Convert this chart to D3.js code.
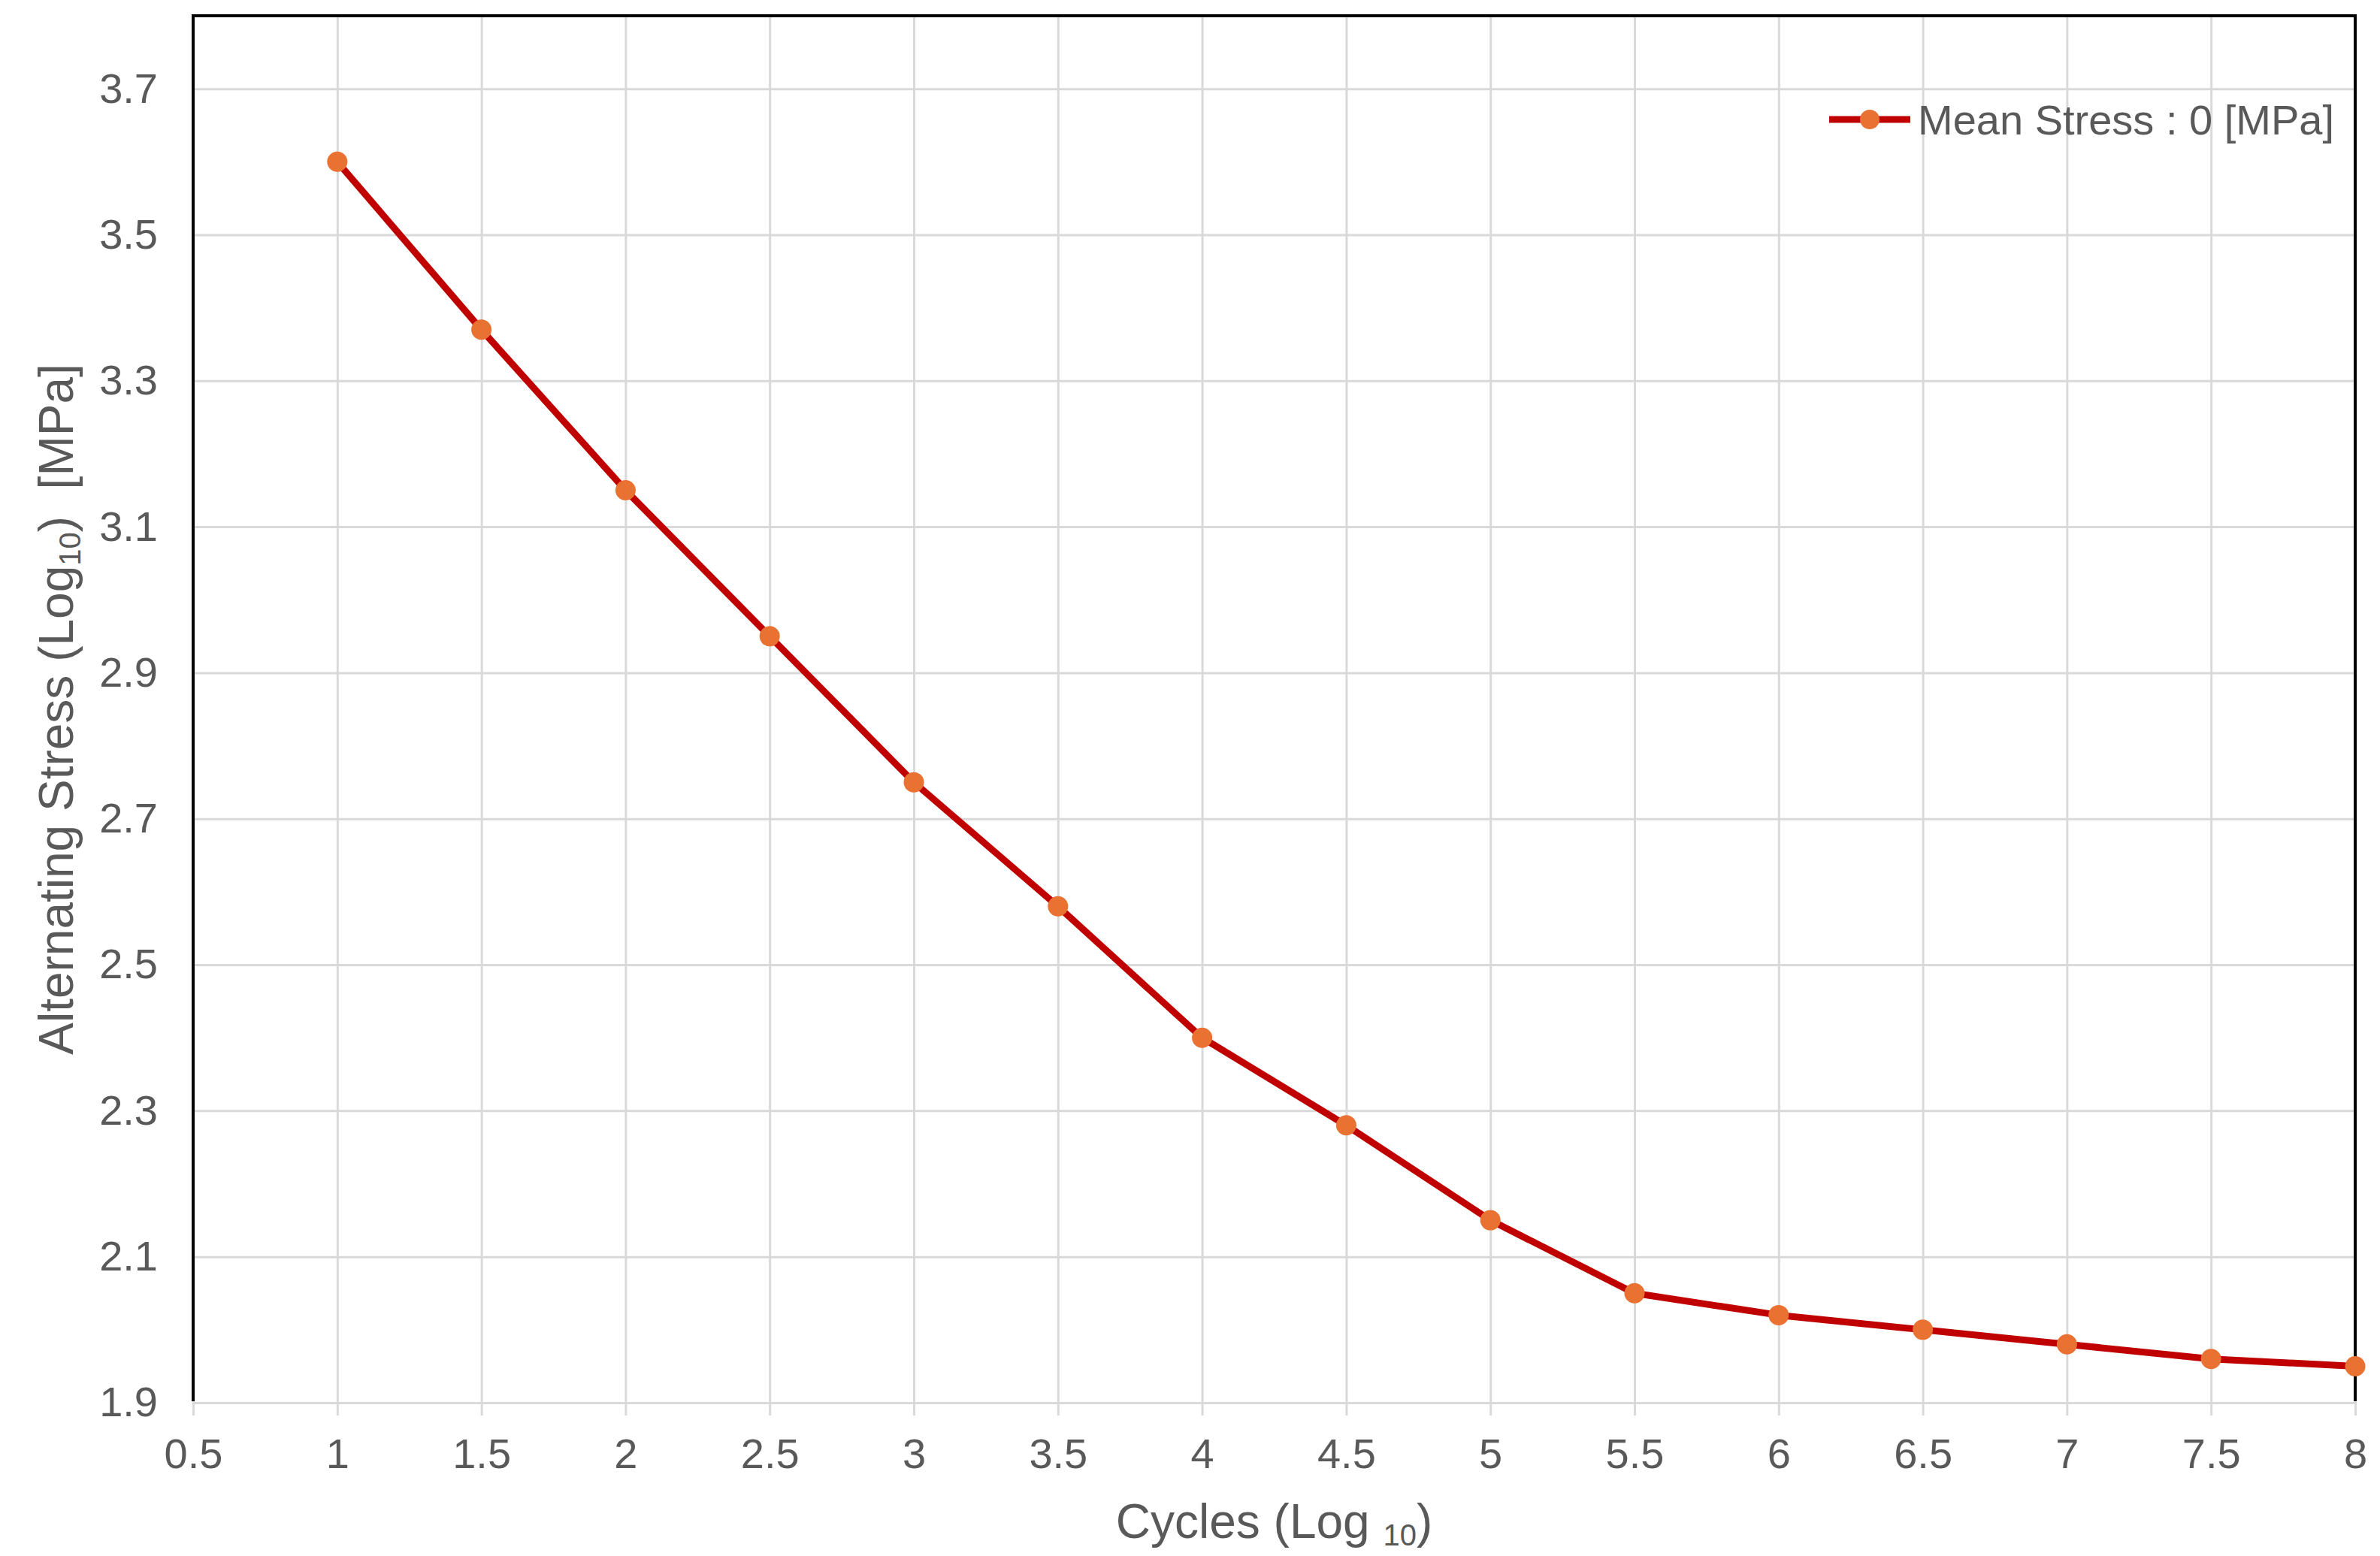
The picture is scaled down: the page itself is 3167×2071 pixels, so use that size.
<!DOCTYPE html>
<html>
<head>
<meta charset="utf-8">
<style>
body {
  margin: 0;
  background: #fff;
}
svg {
  font-family: "Liberation Sans", Arial, sans-serif;
}
.grid line {
  stroke: #d9d9d9;
  stroke-width: 3;
}
.grid path {
  display: none;
}
.axis path {
  display: none;
}
.axis line {
  stroke: #d9d9d9;
  stroke-width: 3;
}
.axis text {
  fill: #595959;
  font-size: 56px;
}
.title {
  fill: #595959;
  font-size: 64px;
  white-space: pre;
}
</style>
</head>
<body>
<script src="https://cdn.jsdelivr.net/npm/d3@7"></script>
<script>

// cycles (log10) and alternating stress (log10)
var cycles = [1, 1.5, 2, 2.5, 3, 3.5, 4, 4.5, 5, 5.5, 6, 6.5, 7, 7.5, 8];
var stress = [3.60, 3.37, 3.15, 2.95, 2.75, 2.58, 2.40, 2.28, 2.15, 2.05, 2.02, 2.00, 1.98, 1.96, 1.95];
var xTicks = [0.5, 1, 1.5, 2, 2.5, 3, 3.5, 4, 4.5, 5, 5.5, 6, 6.5, 7, 7.5, 8];
var yTicks = [1.9, 2.1, 2.3, 2.5, 2.7, 2.9, 3.1, 3.3, 3.5, 3.7];
var seriesName = "Mean Stress : 0 [MPa]";

var width = 3167,
    height = 2071,
    plotLeft = 257,
    plotRight = 3134,
    plotTop = 21,
    plotBottom = 1867;

var x = d3.scaleLinear()
    .domain([0.5, 8])
    .range([plotLeft, plotRight]);

var y = d3.scaleLinear()
    .domain([1.9, 3.8])
    .range([plotBottom, plotTop]);

var svg = d3.select("body").append("svg")
    .attr("width", width)
    .attr("height", height);

// vertical grid
svg.append("g")
    .attr("class", "grid")
    .attr("transform", "translate(0," + plotTop + ")")
    .call(d3.axisBottom(x).tickValues(xTicks).tickSize(plotBottom - plotTop).tickFormat(""));

// horizontal grid
svg.append("g")
    .attr("class", "grid")
    .attr("transform", "translate(" + plotLeft + ",0)")
    .call(d3.axisRight(y).tickValues(yTicks).tickSize(plotRight - plotLeft).tickFormat(""));

// x axis: short ticks below + labels
var xAxis = svg.append("g")
    .attr("class", "axis")
    .attr("transform", "translate(0," + plotBottom + ")")
    .call(d3.axisBottom(x).tickValues(xTicks).tickSize(17).tickPadding(30).tickFormat(d3.format("")));
xAxis.selectAll("text").attr("dy", "0.71em");

var yAxis = svg.append("g")
    .attr("class", "axis")
    .attr("transform", "translate(" + plotLeft + ",0)")
    .call(d3.axisLeft(y).tickValues(yTicks).tickSize(0).tickPadding(47).tickFormat(d3.format(".1f")));

// black frame on top, left and right
svg.append("path")
    .attr("d", "M" + plotLeft + "," + (plotBottom - 2) + "V" + plotTop + "H" + plotRight + "V" + (plotBottom - 2))
    .attr("fill", "none")
    .attr("stroke", "#000")
    .attr("stroke-width", 4);

var line = d3.line()
    .x(function(d, i) { return x(cycles[i]); })
    .y(function(d) { return y(d); });

svg.append("path")
    .datum(stress)
    .attr("d", line)
    .attr("fill", "none")
    .attr("stroke", "#c00000")
    .attr("stroke-width", 9)
    .attr("stroke-linejoin", "round");

svg.selectAll(".dot")
    .data(stress)
    .enter().append("circle")
    .attr("class", "dot")
    .attr("cx", function(d, i) { return x(cycles[i]); })
    .attr("cy", function(d) { return y(d); })
    .attr("r", 13.5)
    .attr("fill", "#e97132");

// legend
var legend = svg.append("g")
    .attr("transform", "translate(2434,159)");
legend.append("line")
    .attr("x1", 0).attr("x2", 108)
    .attr("stroke", "#c00000")
    .attr("stroke-width", 9);
legend.append("circle")
    .attr("cx", 54)
    .attr("r", 13)
    .attr("fill", "#e97132");
legend.append("text")
    .attr("x", 118)
    .attr("y", 20)
    .attr("fill", "#595959")
    .style("font-size", "56px")
    .text(seriesName);

// axis titles
var xt = svg.append("text")
    .attr("class", "title")
    .attr("x", (plotLeft + plotRight) / 2)
    .attr("y", 2047)
    .attr("text-anchor", "middle");
xt.append("tspan").text("Cycles (Log ");
xt.append("tspan").attr("dy", 10).style("font-size", "40px").text("10");
xt.append("tspan").attr("dy", -10).text(")");

var yt = svg.append("text")
    .attr("class", "title")
    .attr("transform", "translate(97," + (plotTop + plotBottom) / 2 + ") rotate(-90)")
    .attr("text-anchor", "middle");
yt.append("tspan").text("Alternating Stress (Log");
yt.append("tspan").attr("dy", 10).style("font-size", "40px").text("10");
yt.append("tspan").attr("dy", -10).text(")  [MPa]");

</script>
</body>
</html>
